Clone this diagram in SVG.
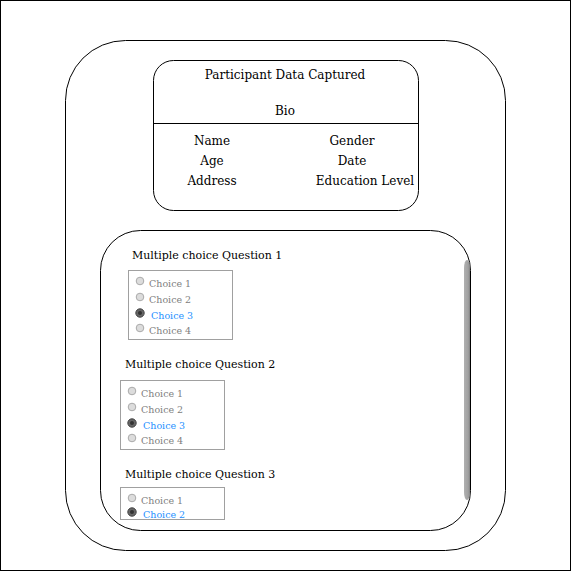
<svg xmlns="http://www.w3.org/2000/svg" width="571" height="571" viewBox="0 0 571 571">
<defs>
<style>
.frame{fill:#fff;stroke:#000;stroke-width:1}
.t{font-family:"DejaVu Serif",serif;fill:#000}
.h{font-size:12px;text-anchor:middle}
.q{font-size:11px}
.c{font-size:9.5px;fill:#808080}
.sel{fill:#1E90FF}
.box{fill:#fff;stroke:#a0a0a0;stroke-width:1}
.r{fill:#dcdcdc;stroke:#aaa;stroke-width:1}
.rs{fill:#666;stroke:#444;stroke-width:1}
.rd{fill:#333}
</style>
<linearGradient id="sb" x1="0" x2="1" y1="0" y2="0">
<stop offset="0" stop-color="#b0b0b0"/>
<stop offset="0.7" stop-color="#a0a0a0"/>
<stop offset="1" stop-color="#808080"/>
</linearGradient>
</defs>
<rect x="0.5" y="0.5" width="570" height="570" fill="#fff" stroke="#000"/>
<g id="outer-container">
<rect class="frame" x="65.5" y="40.5" width="440" height="510" rx="60" ry="60"/>
</g>
<g id="participant-card">
<rect class="frame" x="153.5" y="60.5" width="265" height="150" rx="20" ry="20"/>
<line x1="153.5" y1="123.5" x2="418.5" y2="123.5" stroke="#000"/>
<text class="t h" x="285" y="79">Participant Data Captured</text>
<text class="t h" x="285" y="115">Bio</text>
<text class="t h" x="212" y="145">Name</text>
<text class="t h" x="352" y="145">Gender</text>
<text class="t h" x="212" y="165">Age</text>
<text class="t h" x="352" y="165">Date</text>
<text class="t h" x="212" y="185">Address</text>
<text class="t h" x="365" y="185">Education Level</text>
</g>
<g id="questions-panel">
<rect class="frame" x="100.5" y="230.5" width="370" height="300" rx="40" ry="40"/>
<rect x="464" y="260" width="6" height="240" rx="3" ry="8" fill="url(#sb)"/>
</g>
<g id="question-1">
<text class="t q" x="132" y="259">Multiple choice Question 1</text>
<rect class="box" x="128.5" y="270.5" width="104" height="69"/>
<circle class="r" cx="140" cy="281" r="3.8"/>
<text class="t c" x="149" y="287">Choice 1</text>
<circle class="r" cx="140" cy="297" r="3.8"/>
<text class="t c" x="149" y="303">Choice 2</text>
<circle class="rs" cx="140" cy="313" r="4.2"/>
<circle class="rd" cx="140" cy="313" r="2"/>
<text class="t c sel" x="151" y="319">Choice 3</text>
<circle class="r" cx="140" cy="328" r="3.8"/>
<text class="t c" x="149" y="334">Choice 4</text>
</g>
<g id="question-2">
<text class="t q" x="125" y="368">Multiple choice Question 2</text>
<rect class="box" x="120.5" y="380.5" width="104" height="69"/>
<circle class="r" cx="132" cy="391" r="3.8"/>
<text class="t c" x="141" y="397">Choice 1</text>
<circle class="r" cx="132" cy="407" r="3.8"/>
<text class="t c" x="141" y="413">Choice 2</text>
<circle class="rs" cx="132" cy="423" r="4.2"/>
<circle class="rd" cx="132" cy="423" r="2"/>
<text class="t c sel" x="143" y="429">Choice 3</text>
<circle class="r" cx="132" cy="438" r="3.8"/>
<text class="t c" x="141" y="444">Choice 4</text>
</g>
<g id="question-3">
<text class="t q" x="125" y="478">Multiple choice Question 3</text>
<rect class="box" x="120.5" y="487.5" width="104" height="32"/>
<circle class="r" cx="132" cy="498" r="3.8"/>
<text class="t c" x="141" y="504">Choice 1</text>
<circle class="rs" cx="132" cy="512" r="4.2"/>
<circle class="rd" cx="132" cy="512" r="2"/>
<text class="t c sel" x="143" y="518">Choice 2</text>
</g>
<g id="connectors"></g>
</svg>
